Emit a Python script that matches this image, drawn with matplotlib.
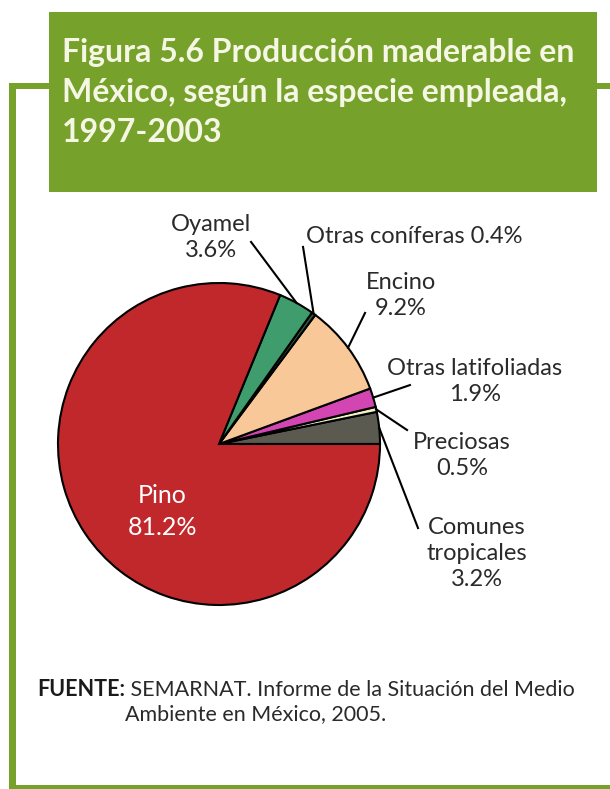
import matplotlib
matplotlib.use('Agg')
import matplotlib.pyplot as plt
import numpy as np
from matplotlib.patches import Rectangle

# Producción maderable por especie, 1997-2003 (%)
species = ['Comunes\ntropicales', 'Preciosas', 'Otras latifoliadas', 'Encino',
           'Otras coníferas', 'Oyamel', 'Pino']
shares = [3.2, 0.5, 1.9, 9.2, 0.4, 3.6, 81.2]
colors = ['#5b5a50', '#f3f0c4', '#d445b4', '#f8c898', '#2f5a3c', '#3f9c6c', '#c1282c']

# label anchor, leader end, horizontal alignment (pie radius = 1)
label_pos = [(1.60, -0.68), (1.51, -0.07), (1.59, 0.39), (1.13, 0.92),
             (0.54, 1.29), (-0.05, 1.28), (-0.35, -0.42)]
leader_end = [(1.236, -0.522), (1.168, 0.087), (1.186, 0.366), (0.907, 0.814),
              (0.522, 1.224), (0.199, 1.255), None]
label_ha = ['center', 'center', 'center', 'center', 'left', 'center', 'center']

W, H = 610, 789
green = '#76a22c'
fig = plt.figure(figsize=(W / 100, H / 100), dpi=100)
fig.patch.set_facecolor('white')

# frame + title box, in pixel units
frame = fig.add_axes([0, 0, 1, 1])
frame.set_xlim(0, W)
frame.set_ylim(H, 0)
frame.axis('off')
frame.add_patch(Rectangle((9, 83), 7, 706, color=green, lw=0))
frame.add_patch(Rectangle((9, 83), 45, 6, color=green, lw=0))
frame.add_patch(Rectangle((560, 83), 50, 6, color=green, lw=0))
frame.add_patch(Rectangle((9, 785), 601, 4, color=green, lw=0))
frame.add_patch(Rectangle((49, 12), 548, 180, color=green, lw=0))

title_lines = ['Figura 5.6 Producción maderable en',
               'México, según la especie empleada,',
               '1997-2003']
for i, line in enumerate(title_lines):
    frame.text(62, 52 + 40 * i, line, fontsize=23, fontweight='bold',
               family='Lato', color='#f6f6e4', va='center', ha='left')

src = frame.text(37, 690, 'FUENTE:', fontsize=15.5, fontweight='bold',
                 family='Lato', color='#1a1a1a', va='center', ha='left')
frame.annotate(' SEMARNAT. Informe de la Situación del Medio', xy=(1, 0.5),
               xycoords=src, va='center', ha='left', fontsize=15.5,
               family='Lato', color='#2a2a2a')
frame.text(125, 714, 'Ambiente en México, 2005.', fontsize=15.5,
           family='Lato', color='#2a2a2a', va='center', ha='left')

# pie axes: center at pixel (219, 444), radius 161 px
cx, cy, r = 219, 444, 161
ax = fig.add_axes([0, 0, 1, 1])
wedges, _ = ax.pie(shares, colors=colors, startangle=0, counterclock=True,
                   radius=1, wedgeprops=dict(edgecolor='black', linewidth=1.5))
ax.set_xlim(-cx / r, (W - cx) / r)
ax.set_ylim((cy - H) / r, cy / r)
ax.set_aspect('equal')
ax.axis('off')

for w, name, val, pos, end, ha in zip(wedges, species, shares, label_pos,
                                      leader_end, label_ha):
    if name == 'Pino':
        ax.text(pos[0], pos[1], '%s\n%.1f%%' % (name, val), ha='center',
                va='center', fontsize=18, family='Lato', color='white',
                linespacing=1.45)
        continue
    mid = np.deg2rad((w.theta1 + w.theta2) / 2)
    edge = (np.cos(mid), np.sin(mid))
    ax.plot([edge[0], end[0]], [edge[1], end[1]], color='black', lw=1.5)
    if name == 'Otras coníferas':
        txt = '%s %.1f%%' % (name, val)
    else:
        txt = '%s\n%.1f%%' % (name, val)
    ax.text(pos[0], pos[1], txt, ha=ha, va='center', fontsize=17,
            family='Lato', color='#2a2a2a', linespacing=1.3)

fig.savefig('out.png', dpi=100, facecolor='white')
